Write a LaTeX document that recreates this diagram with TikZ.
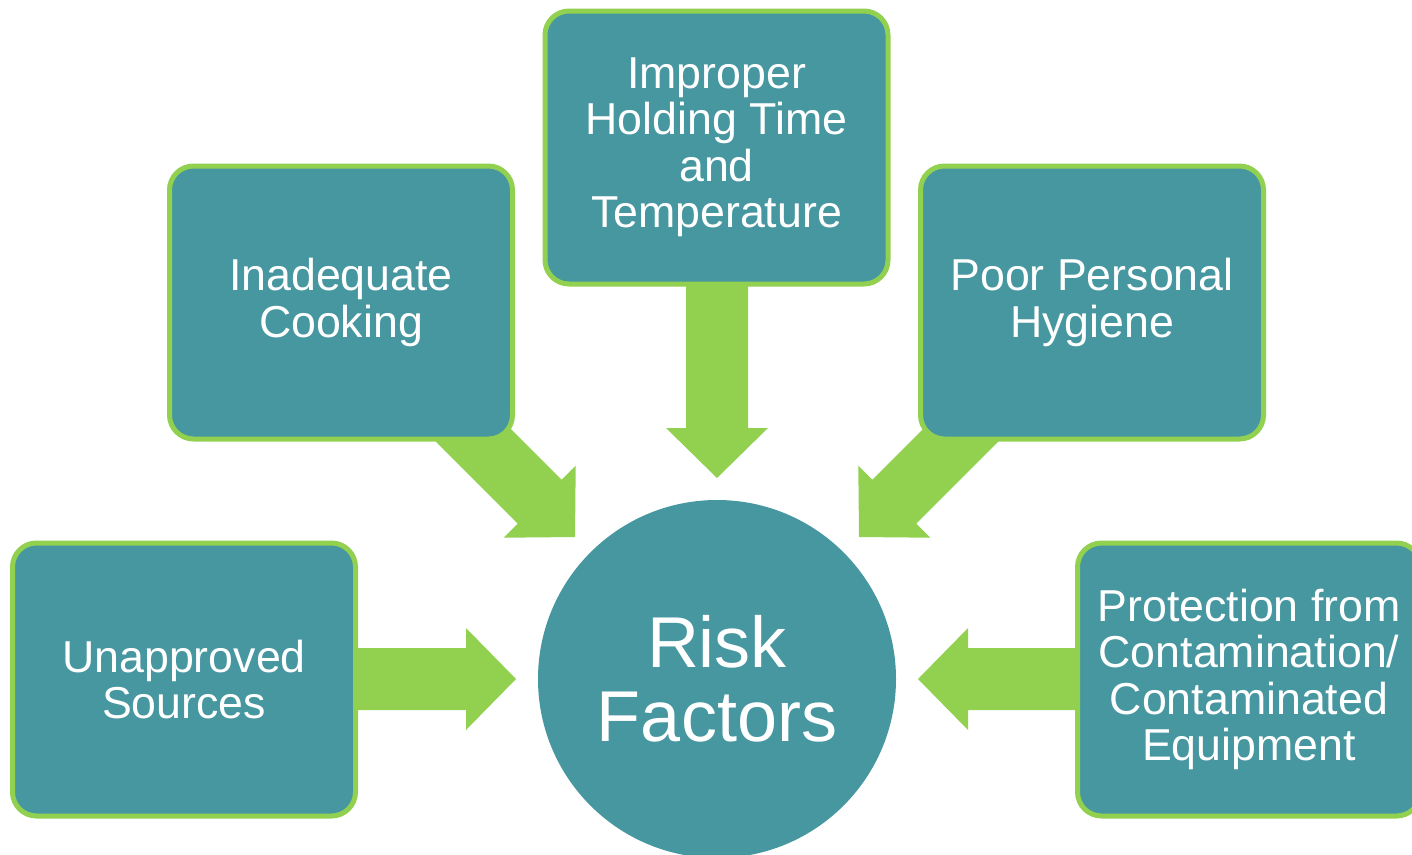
\documentclass[tikz,border=0pt]{standalone}
\usepackage{fontspec}
\setmainfont{Liberation Sans}
\definecolor{teal1}{HTML}{4697A0}
\definecolor{lgreen}{HTML}{92D050}
\newcommand\blockarrow[3]{\fill[arrowfill, shift={(#1)}, rotate=#2] (0,0) -- (-50,51) -- (-50,31) -- (-#3,31) -- (-#3,-31) -- (-50,-31) -- (-50,-51) -- cycle;}
\begin{document}
\begin{tikzpicture}[x=1pt,y=-1pt,
  arrowfill/.style={fill=lgreen},
  factorbox/.style={draw=lgreen, line width=5pt, fill=teal1, rounded corners=24pt,
    minimum width=343pt, minimum height=273pt, inner sep=0pt, align=center,
    text=white, font=\fontsize{44.7}{46.5}\selectfont},
  hub/.style={circle, fill=teal1, minimum size=358pt, inner sep=0pt, align=center,
    text=white, font=\fontsize{72}{74}\selectfont}]
\useasboundingbox (0,0) rectangle (1412,854);
\clip (0,0) rectangle (1412,854);
% arrow tips
\coordinate (tTop) at (717,478);
\coordinate (tLeft) at (516,679);
\coordinate (tRight) at (918,679);
\coordinate (tInad) at (575,537);
\coordinate (tPoor) at (859,537);
\blockarrow{tTop}{-90}{200}
\blockarrow{tLeft}{0}{170}
\blockarrow{tRight}{180}{170}
\blockarrow{tInad}{-45}{200}
\blockarrow{tPoor}{-135}{200}
% nodes
\node[hub] (risk) at (717,679) {Risk\\Factors};
\node[factorbox] (imp) at (716.5,147.5) {Improper\\Holding Time\\and\\Temperature};
\node[factorbox] (inad) at (341,302.5) {Inadequate\\Cooking};
\node[factorbox] (poor) at (1092,302.5) {Poor Personal\\Hygiene};
\node[factorbox] (unap) at (184,679.5) {Unapproved\\Sources};
\node[factorbox] (prot) at (1249,679.5) {Protection from\\Contamination/\\Contaminated\\Equipment};
\end{tikzpicture}
\end{document}
